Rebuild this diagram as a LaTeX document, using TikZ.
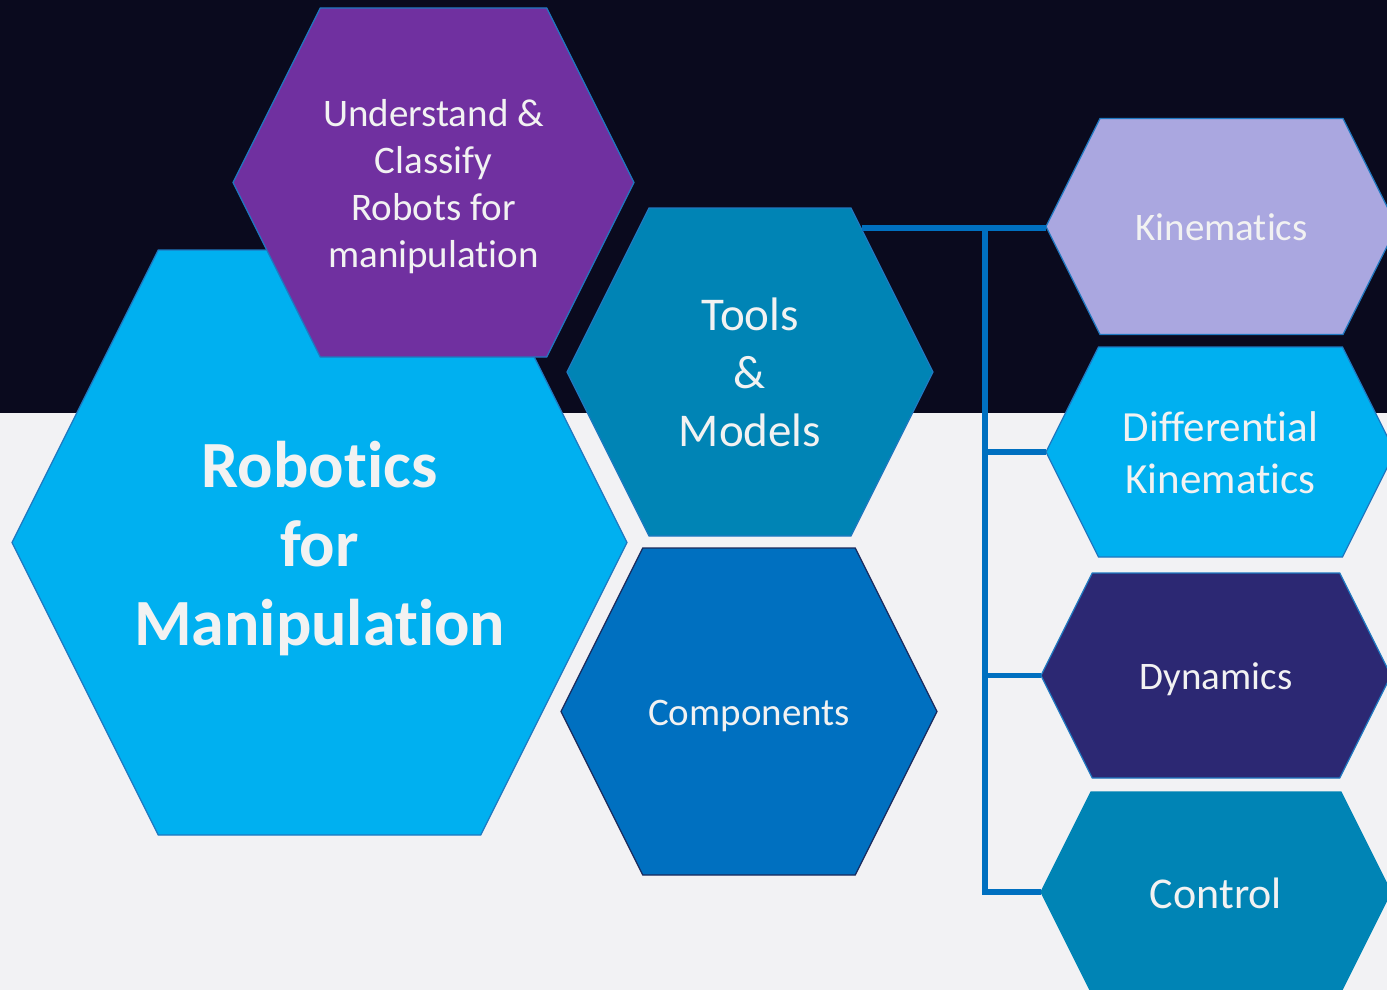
\documentclass[tikz,border=0pt]{standalone}
\usepackage{fontspec}
\setmainfont{Carlito}[Ligatures={NoCommon,NoRequired,NoContextual,NoRare},RawFeature={-liga;-clig;-calt;-dlig}]
\usetikzlibrary{positioning,calc}

\definecolor{nightbg}{HTML}{0A0A1E}
\definecolor{paperbg}{HTML}{F2F2F4}
\definecolor{skyhex}{HTML}{00B0F0}
\definecolor{grapehex}{HTML}{7030A0}
\definecolor{tealhex}{HTML}{0084B5}
\definecolor{bluehex}{HTML}{0070C0}
\definecolor{lilachex}{HTML}{AAA7E0}
\definecolor{navyhex}{HTML}{2C2873}
\definecolor{edgeblue}{HTML}{1F78C0}
\definecolor{edgenavy}{HTML}{1A2A5C}
\definecolor{inkwhite}{HTML}{F2F2F2}

\tikzset{
  hexcell/.style={line width=1.3pt, line join=miter},
  hextext/.style={text=inkwhite, align=center, inner sep=0pt},
  link/.style={draw=bluehex, line width=5.5pt},
}

% hexagon: name, centre x, centre y, half width, half height, fill, edge
\newcommand{\drawhex}[7]{%
  \coordinate (#1) at (#2,#3);
  \coordinate (#1w) at ({#2-#4},#3);
  \draw[hexcell, fill=#6, draw=#7]
    ({#2-#4},#3) -- ({#2-#4+#5/2},{#3-#5}) -- ({#2+#4-#5/2},{#3-#5})
    -- ({#2+#4},#3) -- ({#2+#4-#5/2},{#3+#5}) -- ({#2-#4+#5/2},{#3+#5}) -- cycle;
}

\begin{document}
\begin{tikzpicture}[x=1pt, y=-1pt]
    \useasboundingbox (0,0) rectangle (1387,990);
    \clip (0,0) rectangle (1387,990);
    % Fondo
    \fill[paperbg] (0,0) rectangle (1387,990);
    \fill[nightbg] (0,0) rectangle (1387,413);

    % Hexagonos de la izquierda
    \drawhex{robot}{319.5}{542.5}{307.5}{292.5}{skyhex}{edgeblue}
    \drawhex{grasp}{433.5}{182.5}{200.5}{174.5}{grapehex}{edgeblue}
    \drawhex{tools}{750}{372}{183}{164}{tealhex}{edgeblue}
    \drawhex{parts}{749}{711.5}{188}{163.5}{bluehex}{edgenavy}

    % Hexagonos de la derecha
    \drawhex{kine}{1221.5}{226.5}{175.5}{108}{lilachex}{edgeblue}
    \drawhex{diffk}{1220.5}{452}{174.5}{105}{skyhex}{edgeblue}
    \drawhex{dyn}{1216}{675.5}{175}{102.5}{navyhex}{edgeblue}
    \drawhex{ctrl}{1216}{892}{175}{100}{tealhex}{tealhex}

    % Textos
    \node[hextext, font=\fontsize{66}{79}\selectfont\bfseries] (robotlbl) at ([yshift=-6pt]robot) {Robotics\\for\\Manipulation};
    \node[hextext, font=\fontsize{39}{47}\selectfont] (grasplbl) at ([yshift=-4pt]grasp) {Understand \&\\Classify\\Robots for\\manipulation};
    \node[hextext, font=\fontsize{47}{58}\selectfont] (toolslbl) at (tools) {Tools\\\&\\Models};
    \node[hextext, font=\fontsize{39}{47}\selectfont] (partslbl) at ([yshift=-4pt]parts) {Components};
    \node[hextext, font=\fontsize{39}{47}\selectfont] (kinelbl) at ([yshift=-1pt]kine) {Kinematics};
    \node[hextext, font=\fontsize{43}{52}\selectfont] (diffklbl) at ([yshift=-1pt]diffk) {Differential\\Kinematics};
    \node[hextext, font=\fontsize{39}{47}\selectfont] (dynlbl) at ([yshift=-4pt]dyn) {Dynamics};
    \node[hextext, font=\fontsize{44}{52}\selectfont] (ctrllbl) at ([yshift=-1pt]ctrl) {Control};

    % Conectores
    \coordinate (toolsne) at (862,228);
    \coordinate (trunk) at (985,228);
    \draw[link] (toolsne) -- (toolsne -| kinew);
    \draw[link] (trunk) |- (diffkw);
    \draw[link] (trunk) |- (dynw);
    \draw[link] (trunk) |- (ctrlw);
\end{tikzpicture}
\end{document}
